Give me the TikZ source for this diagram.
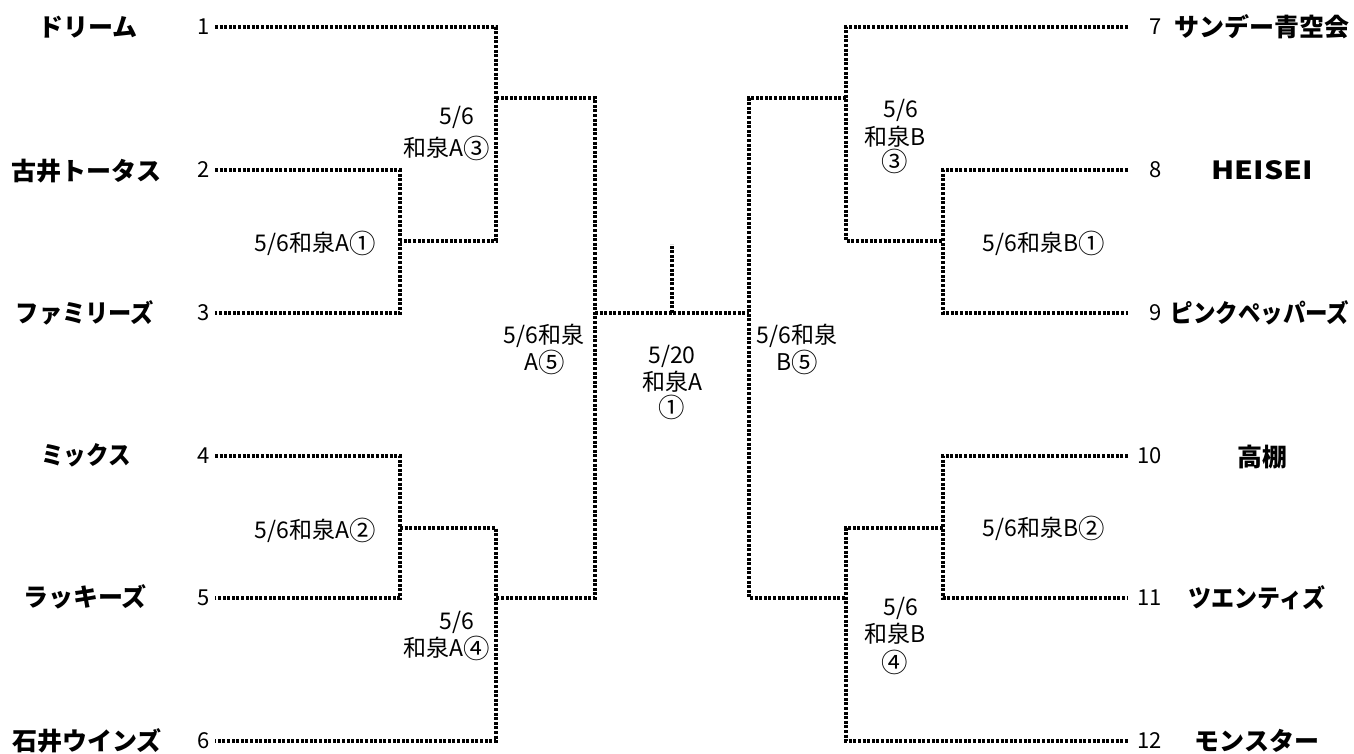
\documentclass[tikz,border=0pt]{standalone}
\usepackage{fontspec}
\setmainfont{Noto Sans CJK JP}
\newfontfamily\jp{Noto Sans CJK JP}
\newcommand\circnum[1]{\raisebox{-0.08em}{\scalebox{1.15}{#1}}}
\tikzset{
  brk/.style={line width=3.2pt, dash pattern=on 3pt off 1.6pt, black},
  team/.style={font=\jp\bfseries\fontsize{25}{25}\selectfont, inner sep=0pt},
  seed/.style={font=\jp\fontsize{22}{22}\selectfont, inner sep=0pt},
  lbl/.style={font=\jp\fontsize{23}{23}\selectfont, inner sep=0pt}
}
\begin{document}
\begin{tikzpicture}[x=1pt,y=-1pt]
\useasboundingbox[fill=white] (0,0) rectangle (1354,753);
% rows
\foreach \i/\y in {1/27,2/170,3/313,4/456,5/598,6/741}{
  \coordinate (L\i) at (215,\y);
}
\foreach \i/\y in {7/27,8/170,9/313,10/456,11/598,12/741}{
  \coordinate (R\i) at (1128,\y);
}
% left junctions
\coordinate (a1t) at (400,170); \coordinate (a1b) at (400,313); \coordinate (a1o) at (400,241);
\coordinate (a3t) at (496,27);  \coordinate (a3b) at (496,241); \coordinate (a3o) at (496,98);
\coordinate (a2t) at (400,456); \coordinate (a2b) at (400,598); \coordinate (a2o) at (400,528);
\coordinate (a4t) at (496,528); \coordinate (a4b) at (496,741); \coordinate (a4o) at (496,598);
\coordinate (a5t) at (595,98);  \coordinate (a5b) at (595,598); \coordinate (a5o) at (595,313);
% right junctions
\coordinate (b1t) at (943,170); \coordinate (b1b) at (943,313); \coordinate (b1o) at (943,241);
\coordinate (b3t) at (846,27);  \coordinate (b3b) at (846,241); \coordinate (b3o) at (846,98);
\coordinate (b2t) at (943,456); \coordinate (b2b) at (943,598); \coordinate (b2o) at (943,528);
\coordinate (b4t) at (846,528); \coordinate (b4b) at (846,741); \coordinate (b4o) at (846,598);
\coordinate (b5t) at (749,98);  \coordinate (b5b) at (749,598); \coordinate (b5o) at (749,313);
\coordinate (fin) at (672,313); \coordinate (fintop) at (672,244);
% left bracket
\draw[brk] (L1) -- (a3t) -- (a3b) -- (a1o);
\draw[brk] (L2) -- (a1t) -- (a1b) -- (L3);
\draw[brk] (a3o) -- (a5t) -- (a5b) -- (a4o);
\draw[brk] (L4) -- (a2t) -- (a2b) -- (L5);
\draw[brk] (a2o) -- (a4t) -- (a4b) -- (L6);
% right bracket
\draw[brk] (R7) -- (b3t) -- (b3b) -- (b1o);
\draw[brk] (R8) -- (b1t) -- (b1b) -- (R9);
\draw[brk] (b3o) -- (b5t) -- (b5b) -- (b4o);
\draw[brk] (R10) -- (b2t) -- (b2b) -- (R11);
\draw[brk] (b2o) -- (b4t) -- (b4b) -- (R12);
% final
\draw[brk] (a5o) -- (b5o);
\draw[brk] (fin) -- (fintop);
% seeds
\foreach \i/\y in {1/27,2/170,3/313,4/456,5/598,6/741}{
  \node[seed, anchor=east] (n\i) at (210,\y) {\i};
}
\foreach \i/\y in {7/27,8/170,9/313,10/456,11/598,12/741}{
  \node[seed, anchor=east] (n\i) at (1162,\y) {\i};
}
% teams left
\node[team] (t1) at (88,27) {ドリーム};
\node[team] (t2) at (87,171) {古井トータス};
\node[team] (t3) at (85,313) {\scalebox{0.93}[1]{ファミリーズ}};
\node[team] (t4) at (86,455) {\scalebox{0.9}[1]{ミックス}};
\node[team] (t5) at (85,597) {ラッキーズ};
\node[team] (t6) at (87,741) {石井ウインズ};
% teams right
\node[team] (t7) at (1262,27) {サンデー青空会};
\node[team] (t8) at (1262,170) {\scalebox{1.2}[1]{HEISEI}};
\node[team] (t9) at (1260,313) {\scalebox{0.9}[1]{ピンクペッパーズ}};
\node[team] (t10) at (1262,457) {高棚};
\node[team] (t11) at (1257,598) {\scalebox{0.92}[1]{ツエンティズ}};
\node[team] (t12) at (1257,741) {モンスター};
% match labels left
\node[lbl] (ma1) at (315,243) {5/6和泉A\circnum{①}};
\node[lbl] (ma3a) at (457,117) {5/6};
\node[lbl] (ma3b) at (447,148) {和泉A\circnum{③}};
\node[lbl] (ma2) at (315,530) {5/6和泉A\circnum{②}};
\node[lbl] (ma4a) at (457,622) {5/6};
\node[lbl] (ma4b) at (447,648) {和泉A\circnum{④}};
\node[lbl] (ma5a) at (544,336) {5/6和泉};
\node[lbl] (ma5b) at (545,362) {A\circnum{⑤}};
% final label
\node[lbl] (mfa) at (672,356) {5/20};
\node[lbl] (mfb) at (672,382) {和泉A};
\node[lbl] (mfc) at (672,407) {\circnum{①}};
% match labels right
\node[lbl] (mb5a) at (797,336) {5/6和泉};
\node[lbl] (mb5b) at (797,362) {B\circnum{⑤}};
\node[lbl] (mb3a) at (901,110) {5/6};
\node[lbl] (mb3b) at (895,137) {和泉B};
\node[lbl] (mb3c) at (895,161) {\circnum{③}};
\node[lbl] (mb1) at (1044,243) {5/6和泉B\circnum{①}};
\node[lbl] (mb2) at (1044,528) {5/6和泉B\circnum{②}};
\node[lbl] (mb4a) at (901,608) {5/6};
\node[lbl] (mb4b) at (895,634) {和泉B};
\node[lbl] (mb4c) at (895,662) {\circnum{④}};
\end{tikzpicture}
\end{document}
